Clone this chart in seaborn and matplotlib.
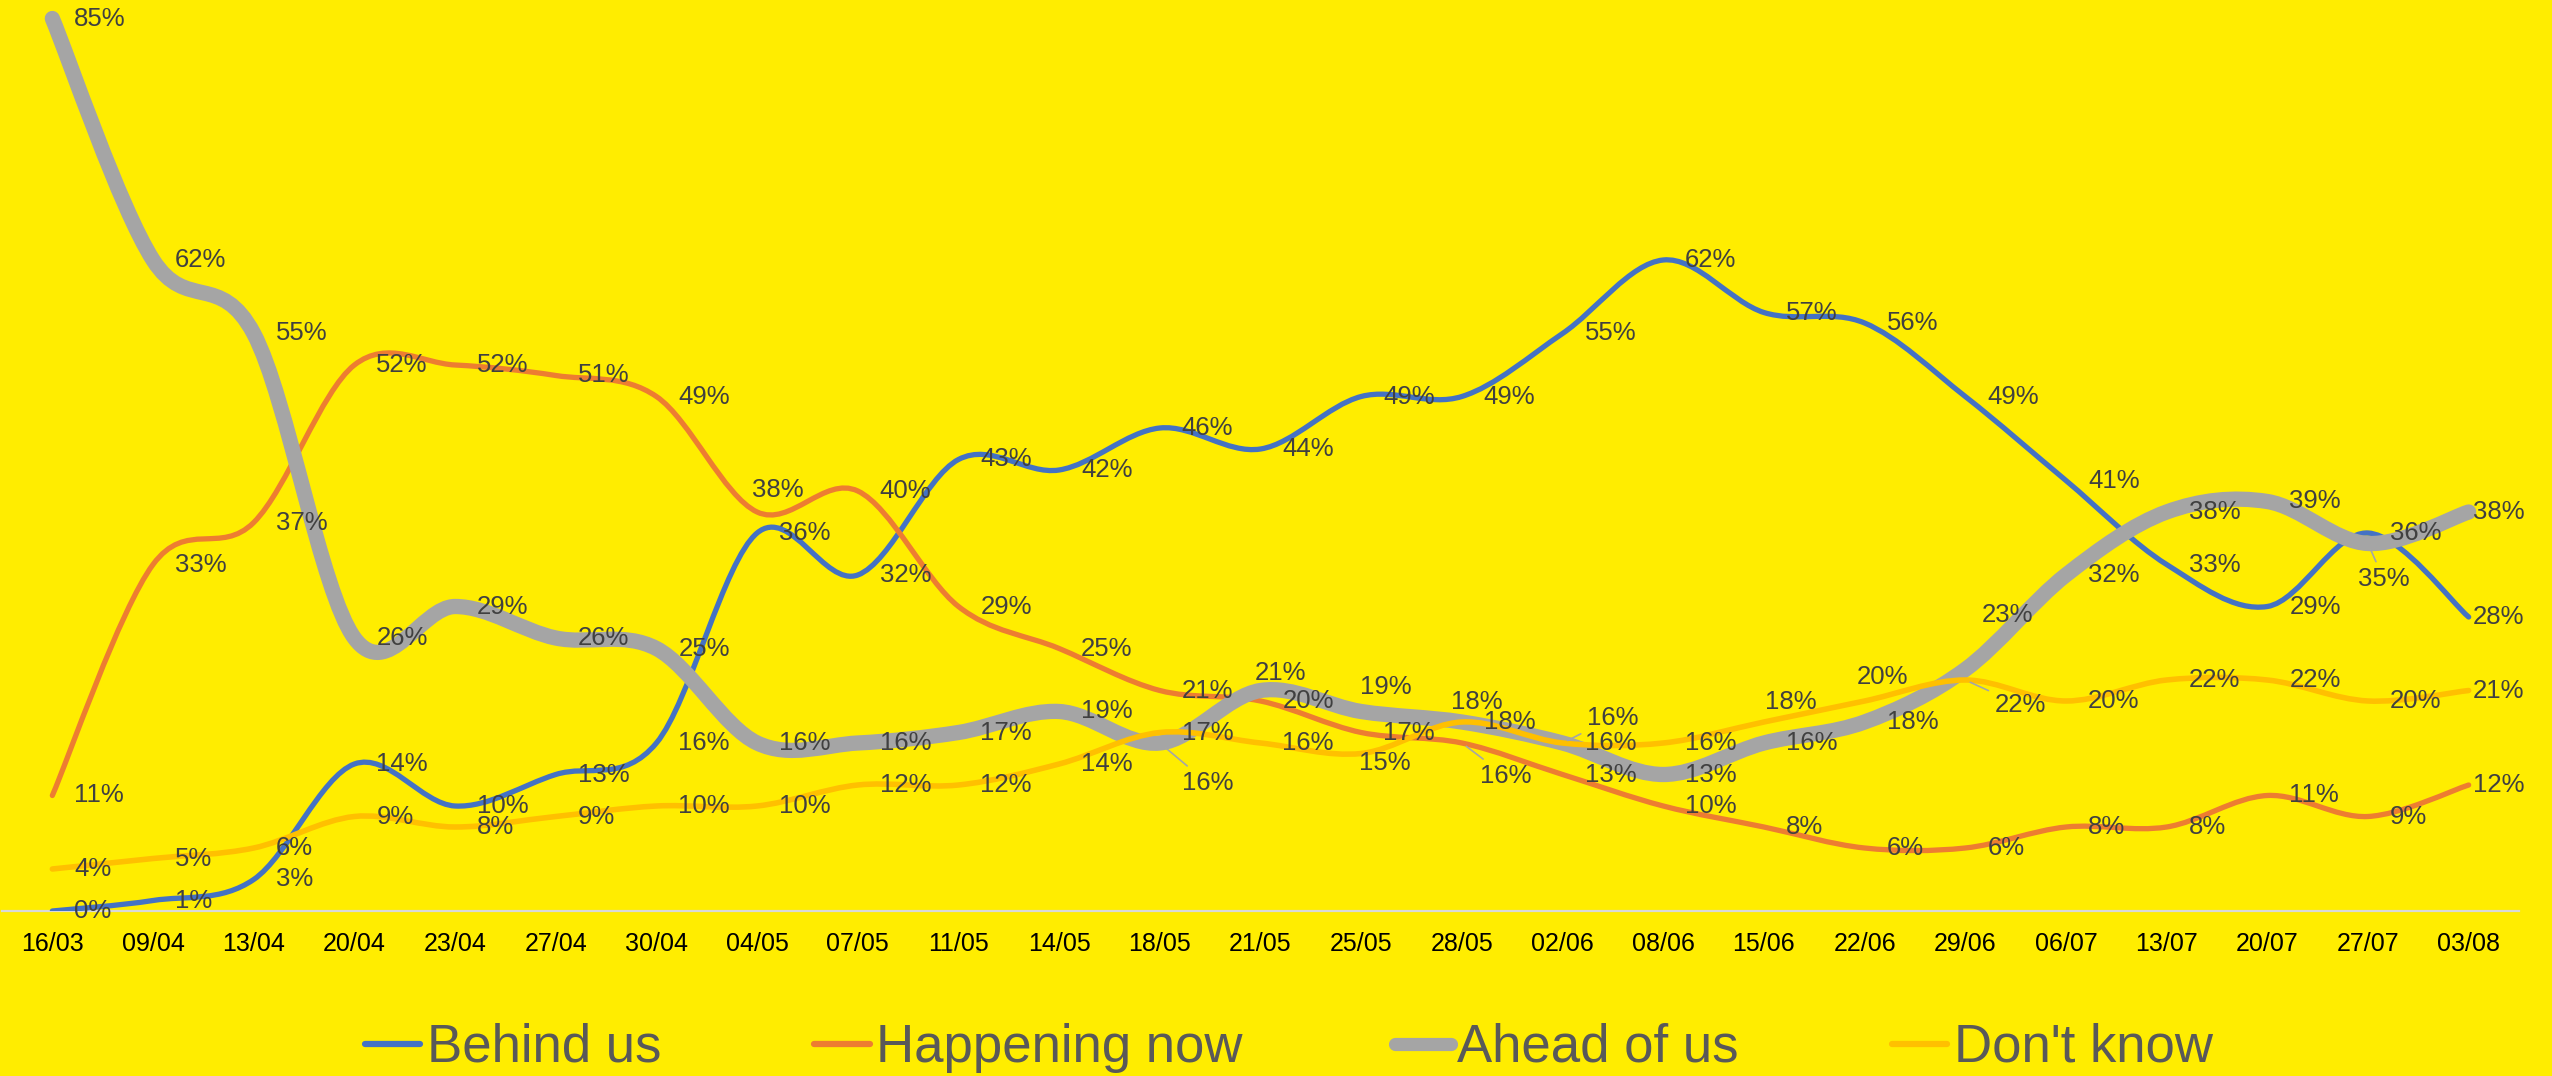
import numpy as np
import matplotlib
matplotlib.use("Agg")
import matplotlib.pyplot as plt
from matplotlib.path import Path
from matplotlib.patches import PathPatch
from matplotlib.lines import Line2D
import seaborn as sns

# data (percent)
dates = ['16/03', '09/04', '13/04', '20/04', '23/04', '27/04', '30/04', '04/05', '07/05',
         '11/05', '14/05', '18/05', '21/05', '25/05', '28/05', '02/06', '08/06', '15/06',
         '22/06', '29/06', '06/07', '13/07', '20/07', '27/07', '03/08']
behind_us = [0, 1, 3, 14, 10, 13, 16, 36, 32, 43, 42, 46, 44, 49, 49, 55, 62, 57, 56, 49, 41, 33, 29, 36, 28]
happening_now = [11, 33, 37, 52, 52, 51, 49, 38, 40, 29, 25, 21, 20, 17, 16, 13, 10, 8, 6, 6, 8, 8, 11, 9, 12]
ahead_of_us = [85, 62, 55, 26, 29, 26, 25, 16, 16, 17, 19, 16, 21, 19, 18, 16, 13, 16, 18, 23, 32, 38, 39, 35, 38]
dont_know = [4, 5, 6, 9, 8, 9, 10, 10, 12, 12, 14, 17, 16, 15, 18, 16, 16, 18, 20, 22, 20, 22, 22, 20, 21]

series_names = ['Behind us', 'Happening now', 'Ahead of us', "Don't know"]
series_values = [behind_us, happening_now, ahead_of_us, dont_know]
colors = ['#4472C4', '#ED7D31', '#A5A5A5', '#FFC000']
widths = [3.8, 3.8, 11, 4.0]

BG = '#FFED00'

# label moves (pixels, up is positive) where the default "right" spot was crowded
label_moves = {
    (1, 7): (-5, 22),
    (2, 11): (22, -40),
    (2, 12): (-6, 18),
    (2, 13): (-1, 24),
    (3, 13): (-2, -10),
    (3, 14): (-11, 20),
    (1, 14): (18, -33),
    (3, 15): (24, 25),
    (3, 17): (1, 20),
    (3, 18): (-8, 24),
    (2, 19): (16, 55),
    (3, 19): (29, -25),
    (2, 23): (-10, -36),
}
leaders = {(2, 11), (1, 14), (3, 15), (3, 19), (2, 23)}

sns.set_theme(style='white')
plt.rcParams['font.family'] = ['Liberation Sans', 'DejaVu Sans']

fig = plt.figure(figsize=(25.52, 10.76), dpi=100, facecolor=BG)
ax = fig.add_axes([2 / 2552, (1076 - 911) / 1076, 2517 / 2552, 911 / 1076])
ax.set_facecolor(BG)

x = np.arange(len(dates))


def smooth_path(xs, ys):
    pts = np.column_stack([xs, ys]).astype(float)
    n = len(pts)
    verts = [pts[0]]
    codes = [Path.MOVETO]
    for i in range(n - 1):
        p0 = pts[max(i - 1, 0)]
        p1 = pts[i]
        p2 = pts[i + 1]
        p3 = pts[min(i + 2, n - 1)]
        verts += [p1 + (p2 - p0) / 6, p2 - (p3 - p1) / 6, p2]
        codes += [Path.CURVE4] * 3
    return Path(verts, codes)


for k, (vals, col, lw) in enumerate(zip(series_values, colors, widths)):
    patch = PathPatch(smooth_path(x, vals), facecolor='none', edgecolor=col, lw=lw,
                      capstyle='round', joinstyle='round', zorder=3 + k)
    ax.add_patch(patch)

for k, vals in enumerate(series_values):
    for i, v in enumerate(vals):
        dx, dy = label_moves.get((k, i), (22, 0))
        if i == len(vals) - 1:
            dx = 4
        arrow = None
        if (k, i) in leaders:
            arrow = dict(arrowstyle='-', color='#A6A6A6', lw=1.2, shrinkA=2, shrinkB=4)
        ax.annotate(f'{v}%', xy=(i, v), xytext=(dx, dy), textcoords='offset pixels',
                    ha='left', va='center', fontsize=18.5, color='#404040', zorder=10,
                    arrowprops=arrow)

ax.set_xlim(-0.5, len(dates) - 0.5)
ax.set_ylim(0, 911 / 10.5)
ax.set_xticks(x)
ax.set_xticklabels(dates)
ax.set_yticks([])
ax.tick_params(axis='x', length=0, pad=15, labelsize=18, labelcolor='black')
for s in ['top', 'left', 'right']:
    ax.spines[s].set_visible(False)
ax.spines['bottom'].set_color('#D9D9D9')
ax.spines['bottom'].set_linewidth(1.6)
ax.spines['bottom'].set_zorder(2)

handles = [Line2D([0], [0], color=c, lw=lw, solid_capstyle='round') for c, lw in zip(colors, [4.5, 4.5, 9.5, 4.5])]
fig.legend(handles, series_names, loc='center', bbox_to_anchor=(0.505, 1 - 1048 / 1076), ncol=4,
           frameon=False, fontsize=38, labelcolor='#595959', handlelength=1.05,
           handletextpad=0.12, columnspacing=2.9, borderpad=0)

fig.savefig('out.png', dpi=100, facecolor=BG)
